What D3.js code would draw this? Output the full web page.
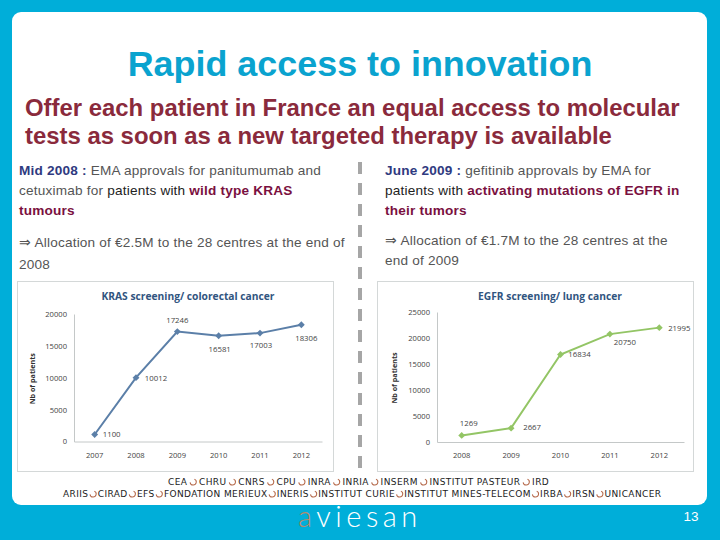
<!DOCTYPE html>
<html>
<head>
<meta charset="utf-8">
<script src="https://cdnjs.cloudflare.com/ajax/libs/d3/7.8.5/d3.min.js"></script>
<style>
  html, body { margin: 0; padding: 0; background: #00aed9; }
  svg { display: block; }
  text { font-family: "Liberation Sans", Arial, sans-serif; }
  .chart text { font-family: "Open Sans", "Liberation Sans", sans-serif; fill: #444; }
  .orgs text { font-family: "DejaVu Sans", sans-serif; font-size: 9px; letter-spacing: 0.4px; fill: #222; }
</style>
</head>
<body>
<svg id="slide" width="720" height="540"></svg>
<script>
// chart values
const kras_years = ["2007", "2008", "2009", "2010", "2011", "2012"];
const kras_values = [1100, 10012, 17246, 16581, 17003, 18306];
const kras_ticks = [0, 5000, 10000, 15000, 20000];
const egfr_years = ["2008", "2009", "2010", "2011", "2012"];
const egfr_values = [1269, 2667, 16834, 20750, 21995];
const egfr_ticks = [0, 5000, 10000, 15000, 20000, 25000];

// partner names, one list per row
const orgs_row1 = ["CEA", "CHRU", "CNRS", "CPU", "INRA", "INRIA", "INSERM", "INSTITUT PASTEUR", "IRD"];
const orgs_row2 = ["ARIIS", "CIRAD", "EFS", "FONDATION MERIEUX", "INERIS", "INSTITUT CURIE", "INSTITUT MINES-TELECOM", "IRBA", "IRSN", "UNICANCER"];

const NAVY = "#2f3a80", GREY = "#555", DARK = "#222", WINE = "#7a1040";

// body text: [text, colour, bold]
const left_lines = [
  [["Mid 2008 : ", NAVY, true], ["EMA approvals for panitumumab and", GREY]],
  [["cetuximab for ", GREY], ["patients with ", DARK], ["wild type KRAS", WINE, true]],
  [["tumours", WINE, true]],
];
const right_lines = [
  [["June 2009 : ", NAVY, true], ["gefitinib approvals by EMA for", GREY]],
  [["patients with ", DARK], ["activating mutations of EGFR in", WINE, true]],
  [["their tumors", WINE, true]],
];
const left_alloc = ["\u21d2 Allocation of \u20ac2.5M to the 28 centres at the end of", "2008"];
const right_alloc = ["\u21d2 Allocation of \u20ac1.7M to the 28 centres at the", "end of 2009"];

const svg = d3.select("#slide");

// ---------- slide background ----------
svg.append("rect").attr("width", 720).attr("height", 540).attr("fill", "#00aed9");
svg.append("rect").attr("x", 12).attr("y", 12).attr("width", 695).attr("height", 493)
  .attr("rx", 9).attr("fill", "#fff");

svg.append("text").attr("x", 360).attr("y", 76).attr("text-anchor", "middle")
  .attr("font-size", 35.9).attr("font-weight", "bold").attr("fill", "#0aa3cf")
  .text("Rapid access to innovation");

["Offer each patient in France an equal access to molecular",
 "tests as soon as a new targeted therapy is available"].forEach((t, i) => {
  svg.append("text").attr("x", 25).attr("y", 116 + i * 28)
    .attr("font-size", 23.9).attr("font-weight", "bold").attr("fill", "#8a2a3c").text(t);
});

// ---------- two text columns ----------
function drawLines(lines, x, y0) {
  lines.forEach((runs, i) => {
    const t = svg.append("text").attr("x", x).attr("y", y0 + i * 20)
      .attr("font-size", 13.6).attr("letter-spacing", 0.2);
    runs.forEach((r) => {
      t.append("tspan").attr("fill", r[1]).attr("font-weight", r[2] ? "bold" : "normal").text(r[0]);
    });
  });
}
function drawAlloc(lines, x, y0, gap) {
  lines.forEach((s, i) => {
    svg.append("text").attr("x", x).attr("y", y0 + i * gap)
      .attr("font-size", 13.6).attr("letter-spacing", 0.2).attr("fill", GREY).text(s);
  });
}
drawLines(left_lines, 19, 175);
drawLines(right_lines, 385, 175);
drawAlloc(left_alloc, 19, 247, 22);
drawAlloc(right_alloc, 385, 245, 20);

// dashed separator between the columns
svg.append("line").attr("x1", 360).attr("x2", 360).attr("y1", 162).attr("y2", 470)
  .attr("stroke", "#a6a6a6").attr("stroke-width", 4).attr("stroke-dasharray", "12 9");

// ---------- charts ----------
function drawChart(o) {
  const g = svg.append("g").attr("class", "chart");
  g.append("rect").attr("x", o.box[0]).attr("y", 281.5).attr("width", 316).attr("height", 190)
    .attr("fill", "#fff").attr("stroke", "#d4d8d8");

  const x = d3.scaleBand().domain(o.years).range(o.xRange);
  const y = d3.scaleLinear().domain(o.domain).range(o.yRange);
  const cx = (d) => x(d) + x.bandwidth() / 2;

  g.append("text").attr("x", o.titleX).attr("y", 300).attr("text-anchor", "middle")
    .attr("font-size", 10.25).attr("font-weight", "bold").style("fill", o.titleColor).text(o.title);

  const yAxis = g.append("g").attr("transform", `translate(${o.xRange[0]},0)`)
    .call(d3.axisLeft(y).tickValues(o.ticks).tickSize(0).tickPadding(7).tickFormat(d3.format("d")));
  const xAxis = g.append("g").attr("transform", `translate(0,${o.yRange[0]})`)
    .call(d3.axisBottom(x).tickSize(0).tickPadding(11));
  [yAxis, xAxis].forEach((a) => {
    a.select(".domain").attr("stroke", "#c4c8c8");
    a.selectAll("text").attr("font-size", 7.6).attr("font-family", null);
  });

  g.append("text").attr("transform", `translate(${o.yLabelX},${(o.yRange[0] + o.yRange[1]) / 2 + 1}) rotate(-90)`)
    .attr("text-anchor", "middle").attr("font-size", 7.2).attr("font-weight", "bold")
    .style("fill", "#333").text("Nb of patients");

  const line = d3.line().x((d, i) => cx(o.years[i])).y((d) => y(d));
  g.append("path").attr("d", line(o.values)).attr("fill", "none")
    .attr("stroke", o.color).attr("stroke-width", 2);

  // small diamond markers
  const diamond = d3.symbol().type(d3.symbolDiamond2).size(30);
  g.selectAll("path.pt").data(o.values).join("path").attr("class", "pt")
    .attr("d", diamond)
    .attr("transform", (d, i) => `translate(${cx(o.years[i])},${y(d)})`)
    .attr("fill", o.color);

  g.selectAll("text.val").data(o.values).join("text").attr("class", "val")
    .attr("x", (d, i) => cx(o.years[i]) + o.labelDx[i])
    .attr("y", (d, i) => y(d) + o.labelDy[i])
    .attr("text-anchor", "middle").attr("font-size", 7.8)
    .text((d) => d);
}

drawChart({
  title: "KRAS screening/ colorectal cancer", titleColor: "#31557f", titleX: 188, box: [17.5],
  years: kras_years, values: kras_values, ticks: kras_ticks, domain: [0, 20000],
  xRange: [74, 322], yRange: [441.5, 314], yLabelX: 35, color: "#5b7fa8",
  labelDx: [17, 20, 0, 1, 1, 5], labelDy: [3, 3, -9, 16, 15, 16],
});
drawChart({
  title: "EGFR screening/ lung cancer", titleColor: "#31557f", titleX: 550, box: [377.5],
  years: egfr_years, values: egfr_values, ticks: egfr_ticks, domain: [0, 25000],
  xRange: [437, 684], yRange: [442, 312], yLabelX: 397, color: "#93c565",
  labelDx: [7, 21, 19, 15, 20], labelDy: [-9, 2, 3, 11, 3],
});

// ---------- partners row ----------
function swirl(g, x, y) {
  g.append("path").attr("transform", `translate(${x},${y})`)
    .attr("d", d3.arc()({ innerRadius: 2.6, outerRadius: 3.6, startAngle: 0.4, endAngle: 4.6 }))
    .attr("fill", "#b5694a");
}
function drawOrgs(names, y, x0, spacing) {
  const g = svg.append("g").attr("class", "orgs");
  let x = x0;
  names.forEach((name, i) => {
    const t = g.append("text").attr("x", x).attr("y", y).text(name);
    x += t.node().getComputedTextLength();
    if (i < names.length - 1) {
      swirl(g, x + spacing / 2, y - 3);
      x += spacing;
    }
  });
}
drawOrgs(orgs_row1, 485, 168, 11.7);
drawOrgs(orgs_row2, 497, 63, 9.3);

// ---------- footer ----------
const logo = svg.append("text").attr("x", 298).attr("y", 527)
  .attr("font-size", 29).attr("letter-spacing", 4.5)
  .style("font-family", "Lato, sans-serif").style("font-weight", 300).attr("fill", "#fff");
logo.append("tspan").attr("fill", "#b98a6a").text("a");
logo.append("tspan").text("viesan");

svg.append("text").attr("x", 691).attr("y", 521).attr("text-anchor", "middle")
  .attr("font-size", 13.5).attr("fill", "#fff").text("13");
</script>
</body>
</html>
